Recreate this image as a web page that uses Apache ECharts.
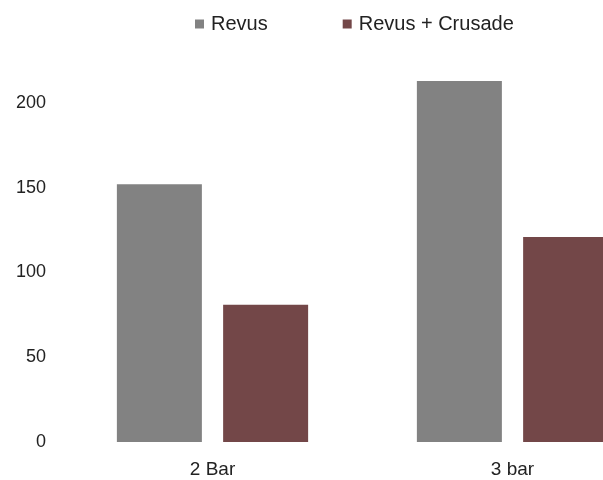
<!DOCTYPE html>
<html>
<head>
<meta charset="utf-8">
<script src="https://cdn.jsdelivr.net/npm/echarts@6/dist/echarts.min.js"></script>
<style>html,body{margin:0;padding:0;background:#fff}#c{width:603px;height:480px}</style>
</head>
<body>
<div id="c"></div>
<script>
var categories = ['2 Bar', '3 bar'];
var revus = [152, 213];
var revusCrusade = [81, 121];
var yTicks = [0, 50, 100, 150, 200];

var chart = echarts.init(document.getElementById('c'), null, {renderer: 'canvas'});
var font = '"Liberation Sans", Arial, Helvetica, sans-serif';
chart.setOption({
  animation: false,
  backgroundColor: '#ffffff',
  legend: {
    left: 190,
    top: 9,
    itemWidth: 9,
    itemHeight: 9,
    itemGap: 75,
    icon: 'rect',
    textStyle: {fontFamily: font, fontSize: 20, color: '#222', padding: [0, 0, 0, 2]},
    data: ['Revus', 'Revus + Crusade']
  },
  grid: {left: 62.5, width: 600, top: 18.25, bottom: 38, containLabel: false, outerBoundsMode: 'none'},
  xAxis: {
    type: 'category',
    data: categories,
    axisLine: {show: false},
    axisTick: {show: false},
    axisLabel: {fontFamily: font, fontSize: 19, color: '#222', margin: 18}
  },
  yAxis: {
    type: 'value',
    min: 0,
    max: 250,
    interval: 50,
    axisLine: {show: false},
    axisTick: {show: false},
    splitLine: {show: false},
    axisLabel: {
      fontFamily: font, fontSize: 18, color: '#222', margin: 16.5,
      showMaxLabel: false,
      formatter: function (v) { return yTicks.indexOf(v) >= 0 ? String(v) : ''; }
    }
  },
  series: [
    {name: 'Revus', type: 'bar', data: revus, barWidth: 85, barGap: '25%', itemStyle: {color: '#828282'}},
    {name: 'Revus + Crusade', type: 'bar', data: revusCrusade, barWidth: 85, itemStyle: {color: '#734748'}}
  ]
});
</script>
</body>
</html>
